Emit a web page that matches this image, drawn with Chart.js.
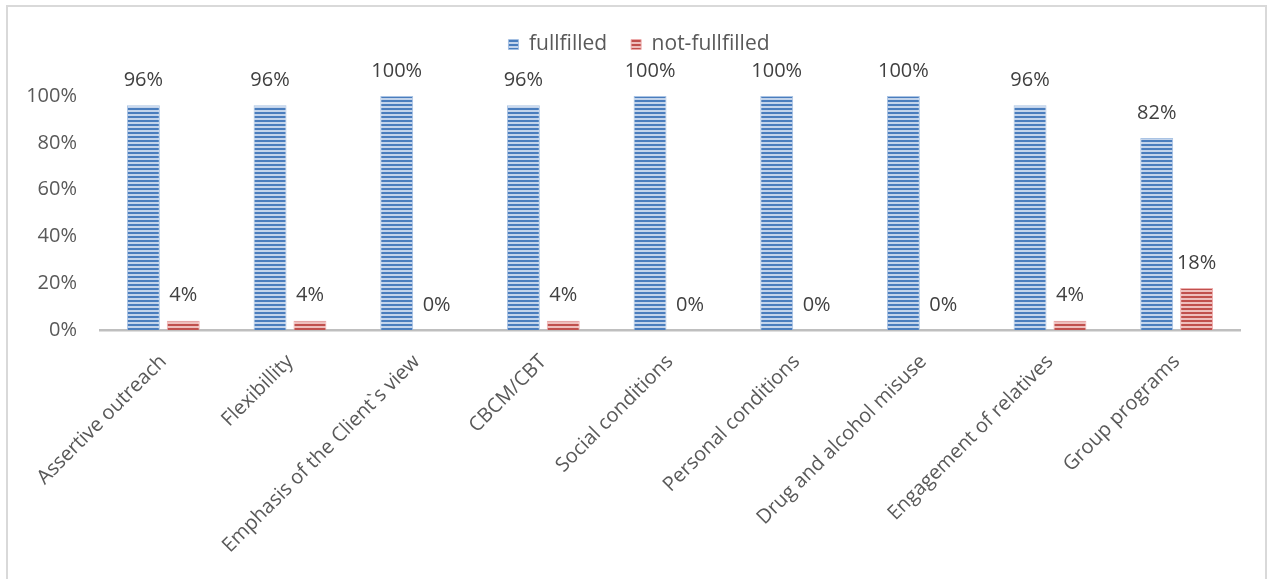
<!DOCTYPE html>
<html>
<head>
<meta charset="utf-8">
<script src="https://cdn.jsdelivr.net/npm/chart.js@4.4.1/dist/chart.umd.min.js"></script>
<style>
  html, body { margin: 0; padding: 0; background: #ffffff; overflow: hidden; }
  #frame { position: absolute; left: 6px; top: 5px; width: 1261px; height: 700px; border: 2px solid #d9d9d9; box-sizing: border-box; }
  #wrap { position: absolute; left: 0; top: 0; width: 1271px; height: 579px; }
</style>
</head>
<body>
<div id="frame"></div>
<div id="wrap"><canvas id="c"></canvas></div>
<script>
const categories = [
  "Assertive outreach",
  "Flexibillity",
  "Emphasis of the Client`s view",
  "CBCM/CBT",
  "Social conditions",
  "Personal conditions",
  "Drug and alcohol misuse",
  "Engagement of relatives",
  "Group programs"
];
const seriesNames = ["fullfilled", "not-fullfilled"];
const fulfilled = [96, 96, 100, 96, 100, 100, 100, 96, 82];
const notFulfilled = [4, 4, 0, 4, 0, 0, 0, 4, 18];
const yTicks = [0, 20, 40, 60, 80, 100];

function stripe(dark, light) {
  const p = document.createElement('canvas');
  p.width = 4; p.height = 4;
  const g = p.getContext('2d');
  g.fillStyle = light; g.fillRect(0, 0, 4, 4);
  g.fillStyle = dark; g.fillRect(0, 0, 4, 2);
  return g.createPattern(p, 'repeat');
}
const blueFill = stripe('#4a7dbd', '#c3d4eb');
const redFill = stripe('#c0504d', '#eebfbd');

const FONT = '"Open Sans", "DejaVu Sans", sans-serif';

const dataLabels = {
  id: 'dataLabels',
  afterDatasetsDraw(chart) {
    const ctx = chart.ctx;
    ctx.save();
    ctx.font = '20px ' + FONT;
    ctx.fillStyle = '#404040';
    ctx.textAlign = 'center';
    ctx.textBaseline = 'middle';
    chart.data.datasets.forEach((ds, di) => {
      const meta = chart.getDatasetMeta(di);
      meta.data.forEach((el, i) => {
        ctx.fillText(ds.data[i] + '%', el.x, el.y - 25);
      });
    });
    ctx.restore();
  }
};

// extra space below the legend and a small horizontal shift to centre it on the frame
const legendTweak = {
  id: 'legendTweak',
  beforeUpdate(chart) {
    const lg = chart.legend;
    if (lg && !lg._tweaked) {
      lg._tweaked = true;
      const fit = lg.fit;
      lg.fit = function () { fit.apply(this, arguments); this.height += 31; };
      const draw = lg.draw;
      lg.draw = function () {
        const c = this.ctx;
        c.save();
        c.translate(19, 0);
        draw.apply(this, arguments);
        c.restore();
      };
    }
  }
};

new Chart(document.getElementById('c'), {
  type: 'bar',
  data: {
    labels: categories,
    datasets: [
      { label: seriesNames[0], data: fulfilled, backgroundColor: blueFill, borderColor: 'rgba(160,188,225,0.9)', borderWidth: 1, categoryPercentage: 0.63, barPercentage: 0.825 },
      { label: seriesNames[1], data: notFulfilled, backgroundColor: redFill, borderColor: 'rgba(235,165,165,0.9)', borderWidth: 1, categoryPercentage: 0.63, barPercentage: 0.825 }
    ]
  },
  options: {
    responsive: true,
    maintainAspectRatio: false,
    animation: false,
    devicePixelRatio: 1,
    layout: { padding: { top: 10, right: 31, left: 0, bottom: 0 } },
    plugins: {
      legend: {
        display: true,
        position: 'top',
        labels: {
          font: { family: FONT, size: 21 },
          color: '#595959',
          boxWidth: 10,
          boxHeight: 10,
          padding: 24
        }
      },
      tooltip: { enabled: false }
    },
    scales: {
      x: {
        grid: { display: false },
        border: { display: true, color: '#bfbfbf', width: 2.5 },
        ticks: {
          color: '#595959',
          font: { family: FONT, size: 20 },
          maxRotation: 45,
          minRotation: 45,
          autoSkip: false,
          padding: 12
        },
        afterFit(scale) { scale.height = 249; }
      },
      y: {
        min: 0,
        max: 100,
        afterBuildTicks(scale) { scale.ticks = yTicks.map(v => ({ value: v })); },
        grid: { display: false },
        border: { display: false },
        ticks: {
          color: '#595959',
          font: { family: FONT, size: 20 },
          padding: 15,
          callback: v => v + '%'
        },
        afterFit(scale) { scale.width = 100; }
      }
    }
  },
  plugins: [dataLabels, legendTweak]
});
</script>
</body>
</html>
